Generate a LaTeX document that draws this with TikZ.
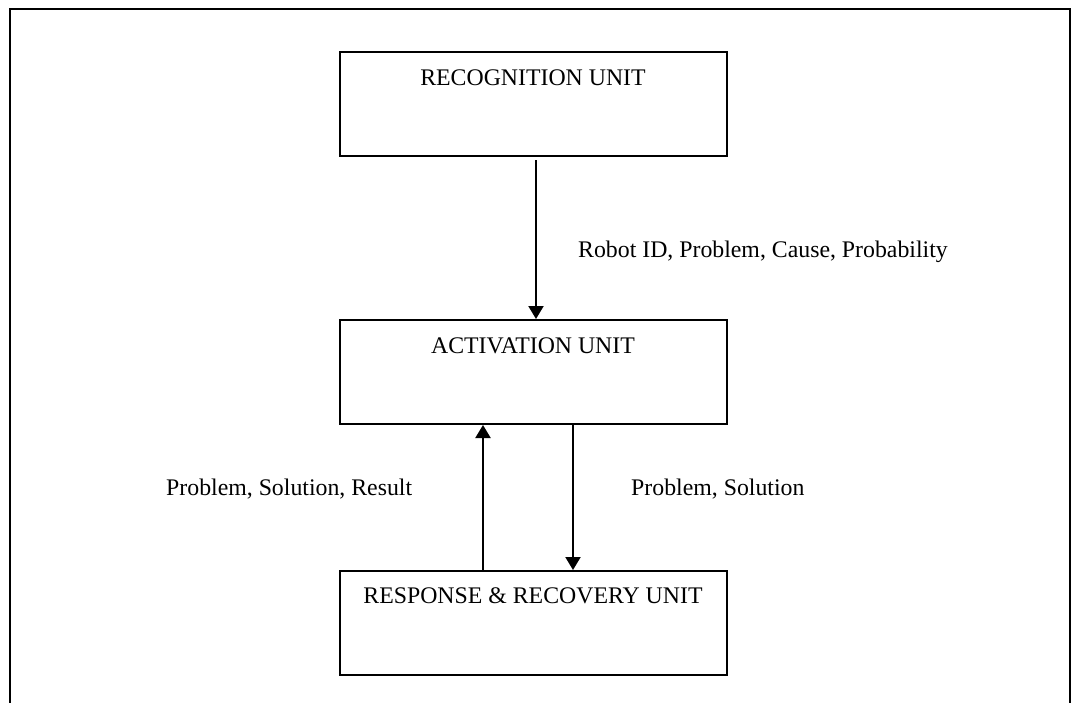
\documentclass[tikz,border=0pt]{standalone}
\usepackage{fontspec}
\setmainfont{Liberation Serif}
\usetikzlibrary{arrows.meta}
\begin{document}
\begin{tikzpicture}[x=1pt,y=-1pt,
  unitbox/.style={draw, line width=2pt, minimum width=387pt, minimum height=104pt, inner sep=0pt},
  txt/.style={font=\fontsize{23.8}{28}\selectfont, inner sep=0pt, anchor=base},
  lbl/.style={font=\fontsize{23.8}{28}\selectfont, inner sep=0pt, anchor=base west},
  arr/.style={line width=2pt, -{Triangle[length=13pt,width=15pt]}}]
\useasboundingbox (0,0) rectangle (1073,702);
\draw[line width=2.4pt] (10,710) -- (10,9) -- (1070,9) -- (1070,710);
\node[unitbox] (rec) at (533.5,104) {};
\node[unitbox] (act) at (533.5,372) {};
\node[unitbox] (res) at (533.5,623) {};
\node[txt] (rect) at (533,85) {RECOGNITION UNIT};
\node[txt] (actt) at (533,353) {ACTIVATION UNIT};
\node[txt] (rest) at (533,603) {RESPONSE \& RECOVERY UNIT};
\draw[arr] ([xshift=2.5pt,yshift=-3pt]rec.south) -- ([xshift=2.5pt]act.north);
\draw[arr] ([xshift=-50.5pt]res.north) -- ([xshift=-50.5pt]act.south);
\draw[arr] ([xshift=39.5pt]act.south) -- ([xshift=39.5pt]res.north);
\node[lbl] (l1) at (578,257) {Robot ID, Problem, Cause, Probability};
\node[lbl] (l2) at (166,495) {Problem, Solution, Result};
\node[lbl] (l3) at (631,495) {Problem, Solution};
\end{tikzpicture}
\end{document}
